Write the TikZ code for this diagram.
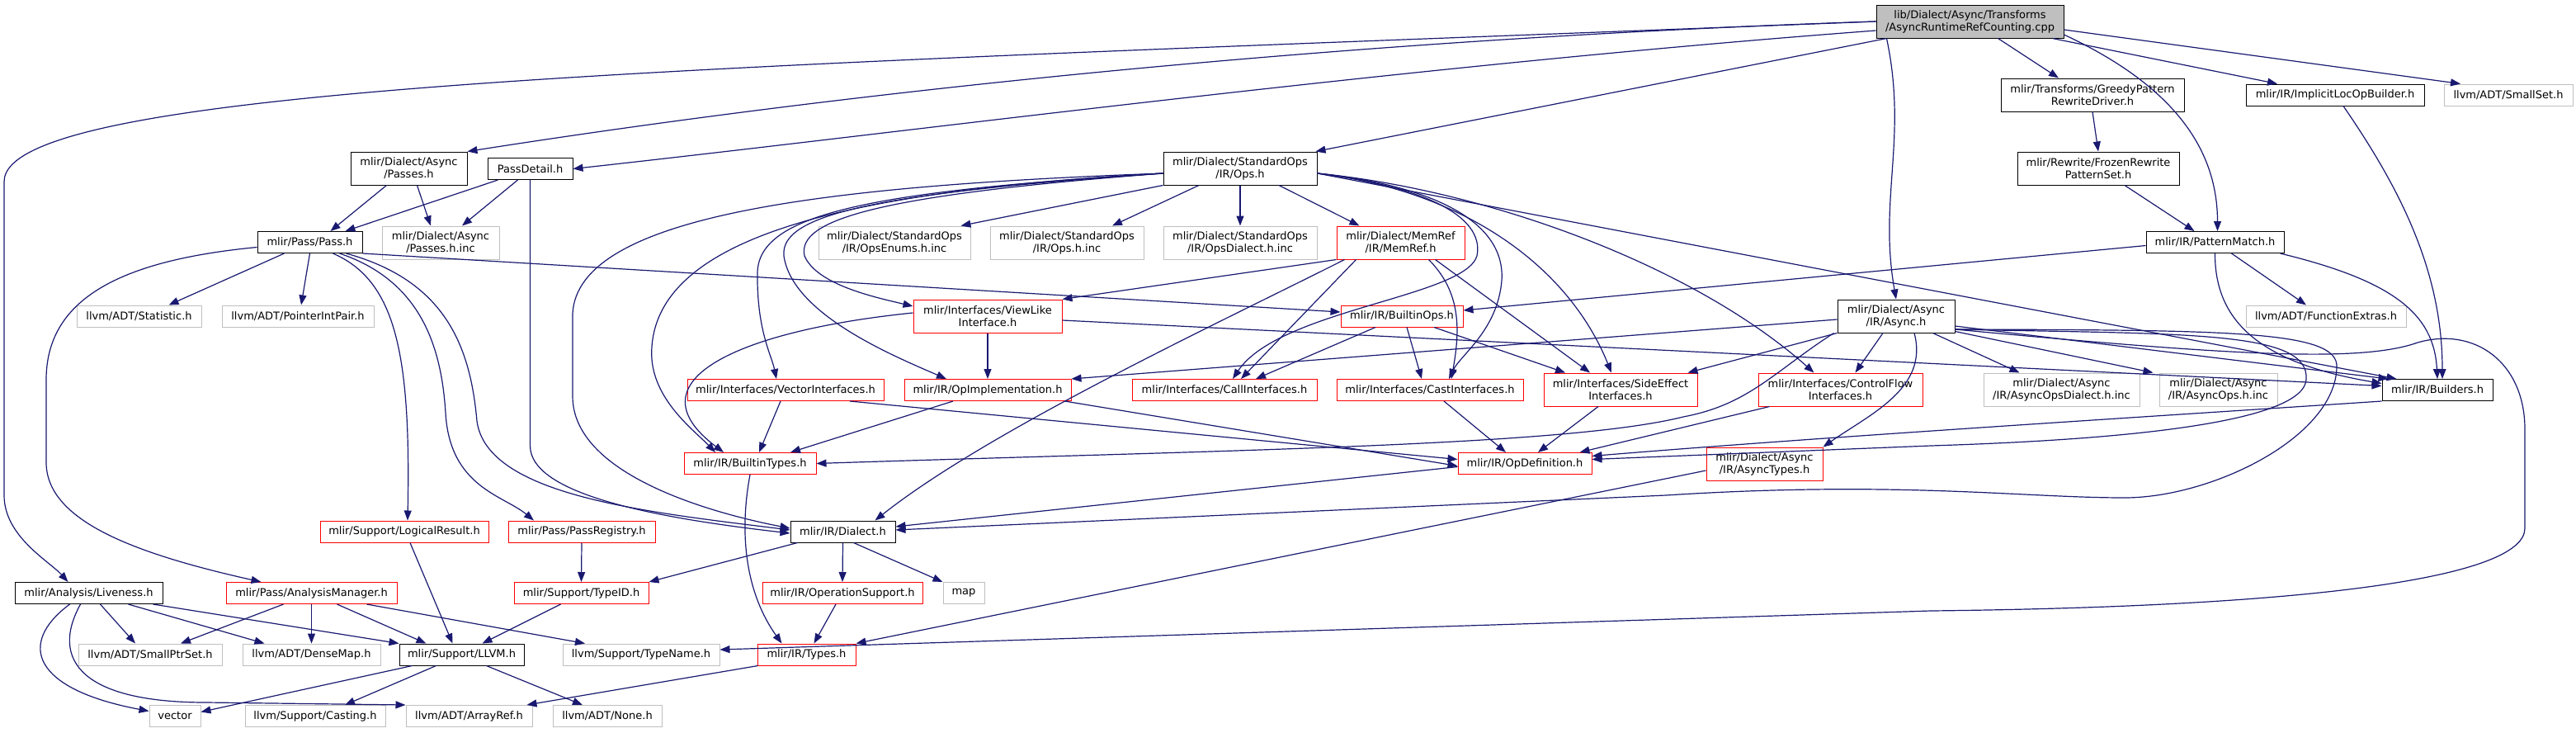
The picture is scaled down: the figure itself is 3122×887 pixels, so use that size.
\documentclass[tikz,border=0pt]{standalone}
\usepackage{fontspec}
\setmainfont{DejaVu Sans}
\definecolor{edgeblue}{HTML}{191970}
\definecolor{extgray}{HTML}{BFBFBF}
\definecolor{truncred}{HTML}{FF0000}
\definecolor{mainfill}{HTML}{BFBFBF}
\usetikzlibrary{arrows.meta}
\tikzset{hfile/.style={draw=black,fill=white,line width=1pt,align=center,inner sep=0pt,minimum height=26pt,font=\fontsize{13}{15}\selectfont},trunc/.style={hfile,draw=truncred},ext/.style={hfile,draw=extgray},inc/.style={-{Triangle[length=12pt,width=9pt]},draw=edgeblue,line width=1.2pt}}

\begin{document}
\begin{tikzpicture}[x=1pt,y=-1pt,two/.style={minimum height=40pt}]
\useasboundingbox (0,0) rectangle (3122,887);
\node[hfile,two,fill=mainfill,minimum width=227pt] (main) at (2387.5,26) {lib/Dialect/Async/Transforms\\/AsyncRuntimeRefCounting.cpp};
\node[hfile,two,minimum width=141pt] (apass) at (495.5,204) {mlir/Dialect/Async\\/Passes.h};
\node[hfile,minimum width=103pt] (pdetail) at (642.5,204.5) {PassDetail.h};
\node[hfile,minimum width=127pt] (passh) at (375.5,293.5) {mlir/Pass/Pass.h};
\node[ext,two,minimum width=142pt] (pinc) at (534,294) {mlir/Dialect/Async\\/Passes.h.inc};
\node[hfile,two,minimum width=186pt] (stdops) at (1503,204) {mlir/Dialect/StandardOps\\/IR/Ops.h};
\node[ext,two,minimum width=184pt] (openums) at (1084,294) {mlir/Dialect/StandardOps\\/IR/OpsEnums.h.inc};
\node[ext,two,minimum width=186pt] (opsinc) at (1293,294) {mlir/Dialect/StandardOps\\/IR/Ops.h.inc};
\node[ext,two,minimum width=186pt] (opsdial) at (1503,294) {mlir/Dialect/StandardOps\\/IR/OpsDialect.h.inc};
\node[trunc,two,minimum width=155pt] (memref) at (1697.5,294) {mlir/Dialect/MemRef\\/IR/MemRef.h};
\node[hfile,two,minimum width=222pt] (greedy) at (2536,115) {mlir/Transforms/GreedyPattern\\RewriteDriver.h};
\node[hfile,two,minimum width=196pt] (frozen) at (2543,204) {mlir/Rewrite/FrozenRewrite\\PatternSet.h};
\node[hfile,minimum width=216pt] (implbld) at (2830,115) {mlir/IR/ImplicitLocOpBuilder.h};
\node[ext,minimum width=156pt] (smallset) at (3040,115) {llvm/ADT/SmallSet.h};
\node[hfile,minimum width=167pt] (patmatch) at (2684.5,293.5) {mlir/IR/PatternMatch.h};
\node[ext,minimum width=151pt] (statistic) at (168.5,383) {llvm/ADT/Statistic.h};
\node[ext,minimum width=184pt] (ptrint) at (361,383) {llvm/ADT/PointerIntPair.h};
\node[trunc,minimum width=148pt] (bops) at (1699,383) {mlir/IR/BuiltinOps.h};
\node[ext,minimum width=194pt] (fnextras) at (2819,383) {llvm/ADT/FunctionExtras.h};
\node[trunc,two,minimum width=180pt] (viewlike) at (1197,383) {mlir/Interfaces/ViewLike\\Interface.h};
\node[hfile,two,minimum width=142pt] (asynch) at (2298,383) {mlir/Dialect/Async\\/IR/Async.h};
\node[trunc,minimum width=238pt] (vecif) at (952,472.5) {mlir/Interfaces/VectorInterfaces.h};
\node[trunc,minimum width=202pt] (opimpl) at (1197,472.5) {mlir/IR/OpImplementation.h};
\node[trunc,minimum width=224pt] (callif) at (1484,472.5) {mlir/Interfaces/CallInterfaces.h};
\node[trunc,minimum width=226pt] (castif) at (1733,472.5) {mlir/Interfaces/CastInterfaces.h};
\node[trunc,two,minimum width=186pt] (sideeff) at (1964,472) {mlir/Interfaces/SideEffect\\Interfaces.h};
\node[trunc,two,minimum width=199pt] (ctrlflow) at (2230.5,472) {mlir/Interfaces/ControlFlow\\Interfaces.h};
\node[ext,two,minimum width=189pt] (adialinc) at (2498.5,472) {mlir/Dialect/Async\\/IR/AsyncOpsDialect.h.inc};
\node[ext,two,minimum width=143pt] (aopsinc) at (2688.5,472) {mlir/Dialect/Async\\/IR/AsyncOps.h.inc};
\node[hfile,minimum width=134pt] (builders) at (2954,472.5) {mlir/IR/Builders.h};
\node[trunc,minimum width=160pt] (btypes) at (909,561.5) {mlir/IR/BuiltinTypes.h};
\node[trunc,minimum width=162pt] (opdef) at (1848,561.5) {mlir/IR/OpDefinition.h};
\node[trunc,two,minimum width=141pt] (atypes) at (2138.5,562) {mlir/Dialect/Async\\/IR/AsyncTypes.h};
\node[trunc,minimum width=204pt] (logres) at (490,644) {mlir/Support/LogicalResult.h};
\node[trunc,minimum width=178pt] (passreg) at (705,644) {mlir/Pass/PassRegistry.h};
\node[hfile,minimum width=127pt] (dialect) at (1021.5,644) {mlir/IR/Dialect.h};
\node[hfile,minimum width=179pt] (liveness) at (107.5,718.5) {mlir/Analysis/Liveness.h};
\node[trunc,minimum width=207pt] (anmgr) at (377.5,718.5) {mlir/Pass/AnalysisManager.h};
\node[trunc,minimum width=163pt] (typeid) at (704.5,718.5) {mlir/Support/TypeID.h};
\node[trunc,minimum width=194pt] (opsupp) at (1021,718.5) {mlir/IR/OperationSupport.h};
\node[ext,minimum width=50pt] (map) at (1168,718.5) {map};
\node[ext,minimum width=174pt] (smallptr) at (182,793) {llvm/ADT/SmallPtrSet.h};
\node[ext,minimum width=167pt] (densemap) at (377.5,793) {llvm/ADT/DenseMap.h};
\node[hfile,minimum width=151pt] (llvmh) at (559.5,793) {mlir/Support/LLVM.h};
\node[ext,minimum width=190pt] (tname) at (777,793) {llvm/Support/TypeName.h};
\node[trunc,minimum width=119pt] (types) at (977.5,793) {mlir/IR/Types.h};
\node[ext,minimum width=62pt] (vector) at (212,867.5) {vector};
\node[ext,minimum width=170pt] (casting) at (382,867.5) {llvm/Support/Casting.h};
\node[ext,minimum width=153pt] (arrayref) at (568.5,867.5) {llvm/ADT/ArrayRef.h};
\node[ext,minimum width=132pt] (nonehdr) at (736,867.5) {llvm/ADT/None.h};
\draw[inc] (main.west) .. controls (900,80) and (5,100) .. (5,220) -- (5,600) .. controls (5,650) and (60,680) .. ([xshift=-25pt]liveness.north);
\draw[inc] (main.west) .. controls (1700,45) and (1100,100) .. (apass.north east);
\draw[inc] ([yshift=-11pt]main.west) .. controls (1700,80) and (1100,160) .. (pdetail.east);
\draw[inc] ([xshift=13pt]main.south west) -- ([xshift=-2pt]stdops.north east);
\draw[inc] ([xshift=13pt]main.south west) to[out=-78,in=100] (asynch.north);
\draw[inc] ([xshift=148pt]main.south west) -- ([xshift=-41pt]greedy.north);
\draw[inc] ([yshift=-16pt]main.east) to[out=-25,in=90] ([xshift=3pt]patmatch.north);
\draw[inc] ([xshift=-14pt]main.south east) -- ([xshift=-70pt]implbld.north);
\draw[inc] ([yshift=-10pt]main.east) -- ([xshift=-58pt]smallset.north);
\draw[inc] ([xshift=-27pt]apass.south) -- ([xshift=25pt]passh.north);
\draw[inc] ([xshift=10pt]apass.south) -- ([xshift=-12pt]pinc.north);
\draw[inc] ([xshift=-39pt]pdetail.south) -- ([xshift=-21pt]passh.north east);
\draw[inc] ([xshift=-15pt]pdetail.south) -- ([xshift=26pt]pinc.north);
\draw[inc] (pdetail.south) -- (642.5,540) .. controls (642.5,600) and (800,628) .. ([yshift=-2pt]dialect.west);
\draw[inc] ([xshift=-31pt]passh.south) -- ([xshift=36pt]statistic.north);
\draw[inc] (passh.south) -- ([xshift=4pt]ptrint.north);
\draw[inc] (passh.south east) -- ([yshift=5pt]bops.west);
\draw[inc] ([yshift=-6pt]passh.west) .. controls (150,315) and (56,360) .. (56,460) -- (56,560) .. controls (56,630) and (160,670) .. ([xshift=-61pt]anmgr.north);
\draw[inc] ([xshift=28pt]passh.south) .. controls (480,340) and (498,430) .. ([xshift=4pt]logres.north);
\draw[inc] ([xshift=36pt]passh.south) .. controls (510,340) and (535,420) .. (540,500) .. controls (545,590) and (610,600) .. ([xshift=-58pt]passreg.north);
\draw[inc] ([xshift=44pt]passh.south) .. controls (540,340) and (570,420) .. (578,510) .. controls (590,600) and (780,620) .. ([yshift=2pt]dialect.west);
\draw[inc] ([yshift=-6pt]stdops.west) .. controls (1000,225) and (700,260) .. (694,380) -- (694,480) .. controls (694,580) and (880,625) .. ([yshift=4pt]dialect.west);
\draw[inc] ([yshift=-6pt]stdops.west) .. controls (1050,230) and (800,280) .. (790,420) .. controls (785,480) and (840,520) .. ([xshift=-42pt]btypes.north);
\draw[inc] ([yshift=-6pt]stdops.west) .. controls (1050,232) and (920,260) .. (918,330) .. controls (917,400) and (935,430) .. ([xshift=-11pt]vecif.north);
\draw[inc] ([yshift=-6pt]stdops.west) .. controls (1060,234) and (945,260) .. (950,310) .. controls (960,380) and (1080,430) .. ([xshift=-50pt]opimpl.north);
\draw[inc] ([yshift=-6pt]stdops.west) .. controls (1070,236) and (965,265) .. (975,310) .. controls (990,345) and (1060,360) .. ([yshift=12pt]viewlike.west);
\draw[inc] (stdops.south west) -- ([xshift=-12pt]openums.north east);
\draw[inc] ([xshift=-50pt]stdops.south) -- ([xshift=55pt]opsinc.north);
\draw[inc] (stdops.south) -- (opsdial.north);
\draw[inc] ([xshift=47pt]stdops.south) -- ([xshift=-50pt]memref.north);
\draw[inc] ([yshift=-6pt]stdops.east) .. controls (1720,225) and (1800,260) .. (1790,310) .. controls (1775,360) and (1550,375) .. ([xshift=10pt]callif.north);
\draw[inc] ([yshift=-6pt]stdops.east) .. controls (1740,225) and (1825,270) .. (1820,340) .. controls (1815,400) and (1770,430) .. ([xshift=23pt]castif.north);
\draw[inc] ([yshift=-6pt]stdops.east) .. controls (1770,230) and (1900,320) .. ([xshift=-11pt]sideeff.north);
\draw[inc] ([yshift=-6pt]stdops.east) .. controls (1800,230) and (2050,320) .. ([xshift=-32pt]ctrlflow.north);
\draw[inc] ([yshift=-6pt]stdops.east) -- ([xshift=18pt]builders.north west);
\draw[inc] (memref.south west) -- (viewlike.north east);
\draw[inc] ([xshift=24pt]memref.south west) -- ([xshift=20pt]callif.north);
\draw[inc] ([xshift=34pt]memref.south) to[out=-45,in=80] ([xshift=26pt]castif.north);
\draw[inc] ([xshift=42pt]memref.south) -- ([xshift=-37pt]sideeff.north);
\draw[inc] ([xshift=10pt]memref.south west) .. controls (1480,390) and (1200,520) .. ([xshift=-25pt]dialect.north east);
\draw[inc] ([xshift=-32pt]bops.south) -- ([xshift=38pt]callif.north);
\draw[inc] ([xshift=6pt]bops.south) -- ([xshift=-10pt]castif.north);
\draw[inc] ([xshift=39pt]bops.south) -- ([xshift=-67pt]sideeff.north);
\draw[inc] (viewlike.south) -- (opimpl.north);
\draw[inc] ([yshift=4pt]viewlike.west) .. controls (900,400) and (760,460) .. ([xshift=-32pt]btypes.north);
\draw[inc] ([yshift=-5pt]viewlike.east) -- ([yshift=5pt]builders.west);
\draw[inc] ([xshift=-6pt]vecif.south) -- ([xshift=11pt]btypes.north);
\draw[inc] ([xshift=78pt]vecif.south) -- ([yshift=5pt]opdef.west);
\draw[inc] ([xshift=-42pt]opimpl.south) -- ([xshift=49pt]btypes.north);
\draw[inc] ([xshift=-8pt]opimpl.south east) -- ([yshift=-3pt]opdef.west);
\draw[inc] ([xshift=17pt]castif.south) -- ([xshift=-23pt]opdef.north);
\draw[inc] ([xshift=-27pt]sideeff.south) -- ([xshift=16pt]opdef.north);
\draw[inc] ([xshift=14pt]ctrlflow.south west) -- ([xshift=-15pt]opdef.north east);
\draw[inc] ([yshift=-4pt]asynch.west) -- (opimpl.north east);
\draw[inc] (asynch.south west) -- ([xshift=-12pt]sideeff.north east);
\draw[inc] ([xshift=-16pt]asynch.south) -- ([xshift=18pt]ctrlflow.north);
\draw[inc] ([xshift=-27pt]asynch.south east) -- ([xshift=-51pt]adialinc.north);
\draw[inc] ([yshift=2pt]asynch.south east) -- ([xshift=-7pt]aopsinc.north west);
\draw[inc] ([yshift=-12pt]asynch.east) -- ([xshift=8pt]builders.north west);
\draw[inc] ([xshift=22pt]asynch.south) to[out=-75,in=35] (atypes.north east);
\draw[inc] ([yshift=-16pt]asynch.east) .. controls (2650,405) and (2800,400) .. (2795,460) .. controls (2790,520) and (2500,535) .. (2340,540) -- ([yshift=5pt]opdef.east);
\draw[inc] ([yshift=-16pt]asynch.east) .. controls (2700,400) and (2835,400) .. (2832,445) .. controls (2830,530) and (2680,603) .. (2575,603) .. controls (2450,603) and (2300,582) .. (2019,600) -- ([yshift=2pt]dialect.east);
\draw[inc] ([yshift=-16pt]asynch.east) .. controls (2700,430) and (2860,440) .. (2930,415) .. controls (3000,395) and (3060,440) .. (3060,520) -- (3060,640) .. controls (3060,700) and (2800,735) .. (2340,740) -- ([yshift=6pt]tname.east);
\draw[inc] ([xshift=-4pt]asynch.south west) .. controls (2150,450) and (2120,490) .. (2040,505) .. controls (1900,540) and (1500,545) .. (btypes.east);
\draw[inc] (greedy.south) -- (frozen.north);
\draw[inc] ([xshift=32pt]frozen.south) -- ([xshift=-25pt]patmatch.north);
\draw[inc] ([xshift=10pt]implbld.south) .. controls (2910,230) and (2960,330) .. ([xshift=6pt]builders.north);
\draw[inc] ([xshift=-5pt]patmatch.south east) .. controls (2900,340) and (2950,380) .. (builders.north);
\draw[inc] (patmatch.south) .. controls (2684,390) and (2740,440) .. ([yshift=8pt]builders.west);
\draw[inc] ([yshift=-4pt]patmatch.west) -- ([yshift=7pt]bops.east);
\draw[inc] ([xshift=20pt]patmatch.south) -- ([xshift=-24pt]fnextras.north);
\draw[inc] (builders.south west) .. controls (2600,505) and (2200,530) .. ([yshift=9pt]opdef.east);
\draw[inc] ([yshift=-8pt]atypes.west) -- (types.north east);
\draw[inc] (btypes.south) .. controls (895,650) and (905,720) .. ([xshift=-30pt]types.north);
\draw[inc] ([xshift=-8pt]opsupp.south) -- ([xshift=9pt]types.north);
\draw[inc] ([yshift=-4pt]opdef.west) -- ([yshift=6pt]dialect.east);
\draw[inc] (dialect.south) -- (opsupp.north);
\draw[inc] ([xshift=13pt]dialect.south) -- (map.north west);
\draw[inc] ([xshift=-55pt]dialect.south) -- (typeid.north east);
\draw[inc] (passreg.south) -- (typeid.north);
\draw[inc] ([xshift=7pt]logres.south) -- ([xshift=-11pt]llvmh.north);
\draw[inc] ([xshift=-25pt]typeid.south) -- ([xshift=25pt]llvmh.north);
\draw[inc] ([xshift=-59pt]types.south) -- ([xshift=-7pt]arrayref.north east);
\draw[inc] ([xshift=-34pt]anmgr.south) -- ([xshift=37pt]smallptr.north);
\draw[inc] (anmgr.south) -- (densemap.north);
\draw[inc] ([xshift=31pt]anmgr.south) -- ([xshift=-43pt]llvmh.north);
\draw[inc] ([xshift=67pt]anmgr.south) -- ([xshift=-68pt]tname.north);
\draw[inc] ([xshift=-23pt]liveness.south) .. controls (20,780) and (40,835) .. ([yshift=6pt]vector.west);
\draw[inc] ([xshift=-10pt]liveness.south) .. controls (60,800) and (100,851) .. (250,851) -- (arrayref.north west);
\draw[inc] ([xshift=14pt]liveness.south) -- ([xshift=-18pt]smallptr.north);
\draw[inc] ([xshift=48pt]liveness.south) -- ([xshift=-57pt]densemap.north);
\draw[inc] ([xshift=78pt]liveness.south) -- (llvmh.north west);
\draw[inc] ([xshift=-60pt]llvmh.south) -- ([yshift=5pt]vector.east);
\draw[inc] ([xshift=-31pt]llvmh.south) -- ([xshift=36pt]casting.north);
\draw[inc] ([xshift=30pt]llvmh.south) -- ([xshift=-30pt]nonehdr.north);
\end{tikzpicture}
\end{document}
